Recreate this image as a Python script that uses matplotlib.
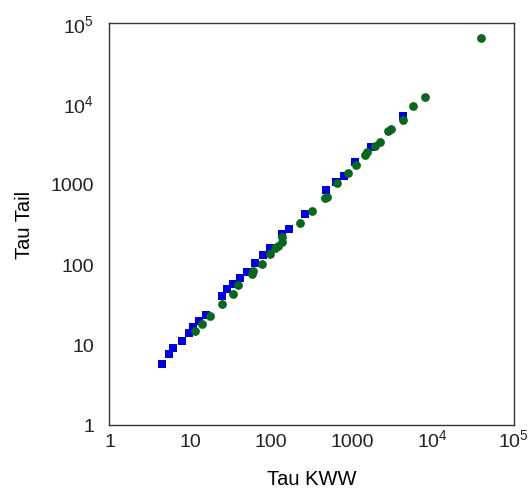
import matplotlib
matplotlib.use('Agg')
import matplotlib.pyplot as plt

plt.rcParams['font.family'] = ['Liberation Sans', 'DejaVu Sans']
plt.rcParams['mathtext.fontset'] = 'custom'
plt.rcParams['mathtext.rm'] = 'Liberation Sans'

# blue squares
tau_kww_sq = [4.43, 5.48, 6.19, 7.83, 9.64, 10.8, 12.8, 15.6, 24.5, 28.8, 33.3, 41.2, 49.9,
              62.3, 78.3, 96.9, 135, 167, 263, 478, 627, 794, 1093, 1734, 4325]
tau_tail_sq = [5.81, 7.73, 9.18, 11.2, 13.8, 16.6, 19.6, 23.3, 40.4, 48.9, 56.5, 66.4, 80.7,
               102, 128, 160, 236, 276, 418, 824, 1035, 1250, 1850, 2864, 6950]

# green circles
tau_kww_ci = [11.4, 13.8, 17.5, 25.0, 33.3, 39.3, 57.5, 60.2, 77.1, 96.9, 112, 123, 135, 138,
              228, 324, 458, 488, 659, 887, 1109, 1453, 1525, 1930, 2208, 2813, 3075, 4325,
              5754, 8035, 39270]
tau_tail_ci = [14.6, 17.8, 22.8, 32.3, 43.0, 54.4, 75.2, 83.0, 101, 133, 158, 169, 189, 215,
               327, 459, 655, 680, 1023, 1343, 1698, 2239, 2500, 2924, 3297, 4467, 4786, 6095,
               9260, 11770, 63680]

ticks = [1, 10, 100, 1000, 1e4, 1e5]
tick_labels = ['1', '10', '100', '1000', r'$\mathregular{10^4}$', r'$\mathregular{10^5}$']

fig = plt.figure(figsize=(5.32, 5.02), dpi=100)
ax = fig.add_axes([0.2058, 0.1514, 0.7598, 0.8014])

ax.scatter(tau_kww_sq, tau_tail_sq, marker='s', s=38, color='#0000dd', linewidths=0, zorder=2)
ax.scatter(tau_kww_ci, tau_tail_ci, marker='o', s=40, color='#0b6620', linewidths=0, zorder=3)

ax.set_xscale('log')
ax.set_yscale('log')
ax.set_xlim(1, 1e5)
ax.set_ylim(1, 1e5)
ax.minorticks_off()
ax.set_xticks(ticks)
ax.set_xticklabels(tick_labels, va='baseline')
ax.set_yticks(ticks)
ax.set_yticklabels(tick_labels)
ax.tick_params(length=0, labelsize=14, colors='#222222')
ax.tick_params(axis='x', pad=15)
ax.tick_params(axis='y', pad=11)
for sp in ax.spines.values():
    sp.set_color('#333333')
    sp.set_linewidth(1.0)

ax.set_xlabel('Tau KWW', fontsize=14.5, color='black', labelpad=14)
ax.set_ylabel('Tau Tail', fontsize=14.5, color='black', labelpad=12)

plt.savefig('out.png', dpi=100)
